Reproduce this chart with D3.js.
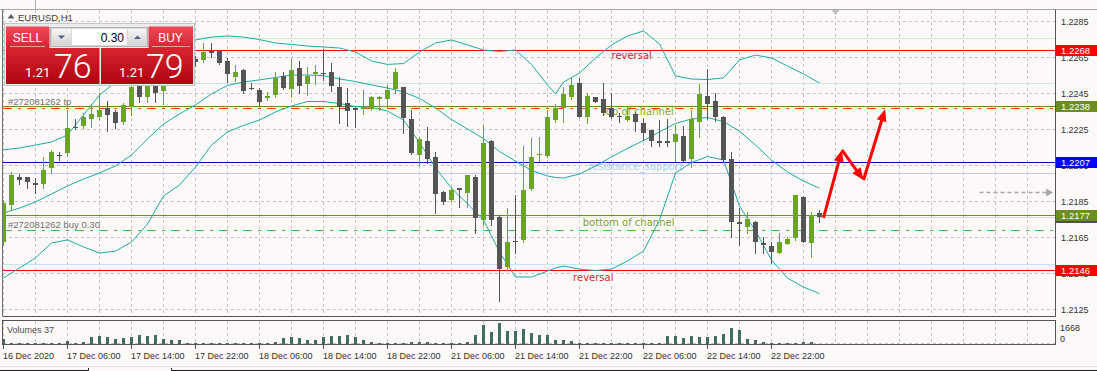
<!DOCTYPE html>
<html>
<head>
<meta charset="utf-8">
<script src="https://cdn.jsdelivr.net/npm/d3@7"></script>
<style>
html,body{margin:0;padding:0;background:#fcf9f8;}
svg{display:block;}
</style>
</head>
<body>
<svg id="chart" width="1097" height="371"></svg>
<script>
// ---------------- DATA ----------------
const symbolTitle = "EURUSD,H1";
const opens = [1.21621,1.21825,1.21982,1.21979,1.21946,1.21942,1.22029,1.22103,1.22116,1.22261,
1.22264,1.22301,1.22316,1.22362,1.22343,1.22286,1.22368,1.22497,1.22427,1.22531,
1.22460,1.22530,1.22580,1.22560,1.22636,1.22631,1.22681,1.22681,1.22625,1.22538,
1.22575,1.22475,1.22464,1.22422,1.22436,1.22539,1.22472,1.22586,1.22497,1.22550,
1.22557,1.22564,1.22482,1.22393,1.22362,1.22358,1.22358,1.22412,1.22412,1.22469,
1.22479,1.22301,1.22103,1.22181,1.22090,1.21896,1.21853,1.21918,1.21893,1.21981,
1.21742,1.22181,1.21760,1.21479,1.21625,1.21631,1.21914,1.22101,1.22097,1.22297,
1.22366,1.22427,1.22504,1.22312,1.22423,1.22412,1.22362,1.22319,1.22297,1.22329,
1.22282,1.22242,1.22181,1.22181,1.22177,1.22208,1.22079,1.22288,1.22431,1.22403,
1.22312,1.22079,1.21729,1.21704,1.21732,1.21616,1.21597,1.21557,1.21607,1.21643,
1.21871,1.21616,1.21779];
const highs = [1.21853,1.22007,1.21997,1.21983,1.21973,1.22093,1.22131,1.22121,1.22353,1.22301,
1.22334,1.22386,1.22446,1.22404,1.22350,1.22390,1.22492,1.22519,1.22542,1.22553,
1.22564,1.22600,1.22620,1.22690,1.22653,1.22727,1.22727,1.22686,1.22643,1.22603,
1.22580,1.22501,1.22473,1.22453,1.22564,1.22564,1.22636,1.22625,1.22592,1.22603,
1.22690,1.22612,1.22534,1.22473,1.22367,1.22464,1.22431,1.22433,1.22492,1.22584,
1.22483,1.22353,1.22204,1.22260,1.22121,1.21900,1.21918,1.21922,1.21994,1.21992,
1.22269,1.22186,1.21769,1.21807,1.21881,1.22153,1.22196,1.22201,1.22353,1.22384,
1.22482,1.22529,1.22529,1.22446,1.22425,1.22501,1.22446,1.22338,1.22371,1.22343,
1.22307,1.22244,1.22297,1.22301,1.22269,1.22264,1.22353,1.22497,1.22579,1.22449,
1.22319,1.22121,1.21807,1.21788,1.21736,1.21646,1.21621,1.21671,1.21649,1.21883,
1.21875,1.21788,1.21797];
const lows = [1.21603,1.21801,1.21942,1.21918,1.21893,1.21918,1.22004,1.22075,1.22097,1.22246,
1.22251,1.22260,1.22301,1.22238,1.22251,1.22275,1.22325,1.22399,1.22399,1.22399,
1.22386,1.22500,1.22540,1.22540,1.22597,1.22621,1.22649,1.22608,1.22510,1.22514,
1.22449,1.22469,1.22381,1.22408,1.22427,1.22472,1.22427,1.22449,1.22436,1.22497,
1.22519,1.22460,1.22279,1.22266,1.22260,1.22331,1.22353,1.22353,1.22371,1.22449,
1.22227,1.22111,1.22047,1.22057,1.21782,1.21831,1.21849,1.21816,1.21816,1.21671,
1.21714,1.21714,1.21292,1.21464,1.21557,1.21621,1.21911,1.22071,1.22094,1.22288,
1.22288,1.22412,1.22312,1.22279,1.22397,1.22325,1.22308,1.22288,1.22294,1.22238,
1.22186,1.22153,1.22153,1.22153,1.22069,1.22067,1.22038,1.22204,1.22303,1.22292,
1.22072,1.21646,1.21603,1.21668,1.21557,1.21557,1.21504,1.21556,1.21606,1.21631,
1.21619,1.21534,1.21732];
const closes = [1.21834,1.21992,1.21964,1.21954,1.21936,1.22019,1.22121,1.22097,1.22251,1.22258,
1.22312,1.22331,1.22353,1.22325,1.22279,1.22381,1.22482,1.22423,1.22519,1.22449,
1.22542,1.22580,1.22560,1.22660,1.22618,1.22675,1.22671,1.22612,1.22551,1.22564,
1.22460,1.22472,1.22399,1.22433,1.22533,1.22477,1.22575,1.22488,1.22542,1.22564,
1.22551,1.22488,1.22371,1.22347,1.22351,1.22371,1.22423,1.22423,1.22464,1.22562,
1.22310,1.22116,1.22193,1.22079,1.21888,1.21843,1.21907,1.21907,1.21992,1.21751,
1.22169,1.21742,1.21469,1.21619,1.21619,1.21908,1.22093,1.22108,1.22314,1.22366,
1.22442,1.22492,1.22316,1.22431,1.22399,1.22334,1.22312,1.22312,1.22319,1.22288,
1.22227,1.22181,1.22169,1.22169,1.22219,1.22069,1.22301,1.22442,1.22386,1.22312,
1.22075,1.21732,1.21718,1.21746,1.21621,1.21603,1.21562,1.21621,1.21636,1.21881,
1.21621,1.21769,1.21757];
const volumes = [420,90,80,70,80,100,90,70,200,100,
140,530,670,580,420,480,560,750,640,690,
420,280,280,110,90,80,70,100,80,110,
100,70,90,80,170,480,560,480,330,330,
560,610,670,750,560,280,170,90,80,100,
110,130,120,130,110,80,70,60,190,690,
1500,940,1668,1030,1030,1170,890,690,690,330,
330,250,110,100,90,80,100,90,80,70,
90,80,110,610,610,480,670,560,560,670,
830,1310,1110,420,280,140,110,90,80,100,
190,140,37];

// Bollinger bands (bar index -> price)
const bandBars = [0,2,4,6,8,10,12,14,16,18,20,22,24,26,28,30,32,34,36,38,40,42,44,46,48,50,52,54,56,58,
60,62,64,66,68,69,70,72,74,76,78,80,82,84,86,88,90,92,94,96,98,100,102];
const bbUpper = [1.22131,1.22142,1.22158,1.22175,1.22214,1.22325,1.22436,1.22508,1.22586,1.22664,
1.22686,1.22725,1.22742,1.22758,1.22764,1.22758,1.22744,1.22725,1.22717,1.22708,
1.22703,1.22697,1.22675,1.22625,1.22606,1.22611,1.22675,1.22725,1.22742,1.22714,
1.22686,1.22678,1.22686,1.22606,1.22492,1.22442,1.22508,1.22558,1.22642,1.22714,1.22764,
1.22792,1.22720,1.22542,1.22525,1.22522,1.22531,1.22631,1.22658,1.22642,1.22597,
1.22553,1.22503];
const bbMiddle = [1.21781,1.21808,1.21842,1.21886,1.21931,1.21969,1.22003,1.22042,1.22103,1.22192,
1.22275,1.22331,1.22381,1.22442,1.22489,1.22508,1.22520,1.22533,1.22547,1.22547,
1.22544,1.22525,1.22511,1.22492,1.22475,1.22453,1.22417,1.22364,1.22300,1.22247,
1.22194,1.22122,1.22069,1.22017,1.21986,1.21978,1.21975,1.21997,1.22042,1.22092,1.22139,
1.22183,1.22231,1.22278,1.22303,1.22311,1.22288,1.22236,1.22158,1.22075,1.22008,
1.21958,1.21918];
const bbLower = [1.21419,1.21475,1.21531,1.21614,1.21631,1.21592,1.21558,1.21569,1.21619,1.21719,
1.21875,1.21936,1.22036,1.22158,1.22231,1.22267,1.22297,1.22342,1.22375,1.22400,
1.22400,1.22389,1.22372,1.22367,1.22347,1.22297,1.22172,1.22031,1.21919,1.21831,
1.21742,1.21564,1.21425,1.21425,1.21458,1.21475,1.21486,1.21469,1.21461,1.21469,1.21514,
1.21569,1.21742,1.22003,1.22061,1.22094,1.22075,1.21819,1.21681,1.21519,1.21419,
1.21369,1.21333];

const priceTicks = [1.2285,1.2265,1.2245,1.2225,1.2205,1.2185,1.2165,1.2145,1.2125];
const timeTickBars = [0,8,16,24,32,40,48,56,64,72,80,88,96];
const timeTickLabels = ["16 Dec 2020","17 Dec 06:00","17 Dec 14:00","17 Dec 22:00","18 Dec 06:00",
"18 Dec 14:00","18 Dec 22:00","21 Dec 06:00","21 Dec 14:00","21 Dec 22:00","22 Dec 06:00",
"22 Dec 14:00","22 Dec 22:00"];

// horizontal objects
const reversalHigh = 1.22684, topChannel = 1.22376, tpPrice = 1.22362, resistance = 1.22066;
const supportLine = 1.22005, bottomChannel = 1.21770, buyPrice = 1.21686, reversalLow = 1.21463;
const faintLevels = [1.22751, 1.22501, 1.21496];
const orderTicket = "#272081262";
const lotSize = "0.30";
const sellPrice = "1.2176", buyQuote = "1.2179";
// text objects: [text, bar, price]
const textObjects = [["reversal",76,1.22636],["top of channel",74.8,1.22325],["resistance_support",73.1,1.22017],
["bottom of channel",72.4,1.21711],["reversal",71.2,1.21403]];
// red forecast arrows (bar, price)
const arrowBars = [102.5,104.8,107.5,110.2];
const arrowPrices = [1.21754,1.22131,1.21964,1.22357];
const dashArrowBars = [122, 131.2], dashArrowPrice = 1.21896;
const shiftBar = 104;

// ---------------- SCALES ----------------
const svg = d3.select('#chart');
const W = 1097, H = 371;
const x = d3.scaleLinear().domain([0, 131.5]).range([3.5, 1055.5]);
const y = d3.scaleLinear().domain([1.2125, 1.2285]).range([308.5, 20.5]);
const yv = d3.scaleLinear().domain([0, d3.max(volumes)]).range([344, 323]);
const cy = v => Math.round(v) + 0.5;
const AX = "'Liberation Sans', Arial, sans-serif";
const TXT = "'DejaVu Sans', Verdana, sans-serif";
const n = opens.length;
const bars = d3.range(n).map(i => ({i, o: opens[i], h: highs[i], l: lows[i], c: closes[i], v: volumes[i]}));
const bid = closes[n - 1];

const defs = svg.append('defs');
defs.append('clipPath').attr('id', 'clipMain').append('rect').attr('x', 3).attr('y', 10).attr('width', 1052).attr('height', 306);
defs.append('clipPath').attr('id', 'clipVol').append('rect').attr('x', 3).attr('y', 321).attr('width', 1052).attr('height', 23);
function grad(id, c1, c2) {
  const g = defs.append('linearGradient').attr('id', id).attr('x1', 0).attr('y1', 0).attr('x2', 0).attr('y2', 1);
  g.append('stop').attr('offset', '0%').attr('stop-color', c1);
  g.append('stop').attr('offset', '100%').attr('stop-color', c2);
}
grad('gHead', '#ef4a56', '#d42634');
grad('gPrice', '#d8242f', '#b0040f');
grad('gBtn', '#f6f6f6', '#d4d4d4');

svg.append('rect').attr('width', W).attr('height', H).attr('fill', '#fcf9f8');

// ---------------- GRID ----------------
const main = svg.append('g').attr('clip-path', 'url(#clipMain)');
const gridBars = d3.range(0, 132, 4);
main.selectAll('.vg').data(gridBars).join('line')
  .attr('x1', d => x(d)).attr('x2', d => x(d)).attr('y1', 10).attr('y2', 316)
  .attr('stroke', '#c4c4c4').attr('stroke-dasharray', '3,3');
main.selectAll('.hg').data(priceTicks).join('line')
  .attr('x1', 3).attr('x2', 1055).attr('y1', d => cy(y(d))).attr('y2', d => cy(y(d)))
  .attr('stroke', '#c4c4c4').attr('stroke-dasharray', '3,3');

// faint lines
const faintColors = ['#d6ecc6', '#cfe5e5', '#c8e6e6'];
faintLevels.forEach((p, k) => {
  main.append('line').attr('x1', 3).attr('x2', 1055).attr('y1', cy(y(p))).attr('y2', cy(y(p)))
    .attr('stroke', faintColors[k]).attr('stroke-width', 1);
});
// bid line
main.append('line').attr('x1', 3).attr('x2', 1055).attr('y1', cy(y(bid))).attr('y2', cy(y(bid)))
  .attr('stroke', '#d8d8cc');
// level lines
function hline(p, color, dash, w) {
  main.append('line').attr('x1', 3).attr('x2', 1055).attr('y1', cy(y(p))).attr('y2', cy(y(p)))
    .attr('stroke', color).attr('stroke-width', w || 1).attr('stroke-dasharray', dash || null);
}
hline(reversalHigh, '#ff0000');
hline(topChannel, '#6b8e23');
hline(tpPrice, '#ff4500', '9,6,3,6');
hline(resistance, '#0000cd');
hline(supportLine, '#c8c8f4');
hline(bottomChannel, '#6b8e23');
hline(buyPrice, '#32cd32', '9,6,3,6');
hline(reversalLow, '#ff0000');

// text objects
const textColors = ['#e0202a', '#8faa1c', '#a6d2ea', '#7f9a1e', '#e0202a'];
const tg = main.append('g');
textObjects.forEach((t, k) => {
  const tx = x(t[1]), ty = y(t[2]);
  const el = tg.append('text').attr('x', tx).attr('y', ty).text(t[0])
    .attr('font-family', TXT).attr('font-size', 10).attr('fill', textColors[k]);
  if (k >= 3) {
    const bb = el.node().getBBox();
    tg.insert('rect', 'text').attr('x', bb.x - 3).attr('y', bb.y + 1).attr('width', bb.width + 6).attr('height', bb.height - 1).attr('fill', '#ffffff');
  }
});

// order labels
main.append('text').attr('x', 8).attr('y', cy(y(topChannel)) - 2).text(orderTicket + " tp")
  .attr('font-family', AX).attr('font-size', 9.5).attr('fill', '#707070');
main.append('text').attr('x', 8).attr('y', cy(y(buyPrice)) - 2.5).text(orderTicket + " buy " + lotSize)
  .attr('font-family', AX).attr('font-size', 9.5).attr('fill', '#707070');

// ---------------- BANDS ----------------
const bandLine = arr => d3.line().x((d, k) => x(bandBars[k])).y(d => y(d))(arr);
[bbUpper, bbMiddle, bbLower].forEach(arr => {
  main.append('path').attr('d', bandLine(arr)).attr('fill', 'none').attr('stroke', '#20aaa6').attr('stroke-width', 1);
});

// ---------------- CANDLES ----------------
const GREEN = '#6aa80c', GRAY = '#555555';
const cg = main.append('g');
bars.forEach(b => {
  const col = b.c > b.o ? GREEN : GRAY;
  const xc = x(b.i);
  cg.append('line').attr('x1', xc).attr('x2', xc).attr('y1', Math.round(y(b.h))).attr('y2', Math.round(y(b.l)) + 1)
    .attr('stroke', col).attr('stroke-width', 1);
  const top = Math.round(y(Math.max(b.o, b.c))), bot = Math.round(y(Math.min(b.o, b.c)));
  cg.append('rect').attr('x', xc - 2.5).attr('y', top).attr('width', 5).attr('height', Math.max(1, bot - top))
    .attr('fill', col);
});

// ---------------- ARROWS ----------------
function arrow(g, x0, y0, x1, y1, color, w, hl, hw, dash) {
  const dx = x1 - x0, dy = y1 - y0, L = Math.hypot(dx, dy), ux = dx / L, uy = dy / L;
  const bx = x1 - ux * hl, by = y1 - uy * hl;
  g.append('line').attr('x1', x0).attr('y1', y0).attr('x2', bx + ux).attr('y2', by + uy)
    .attr('stroke', color).attr('stroke-width', w).attr('stroke-dasharray', dash || null);
  g.append('path').attr('d', `M${x1},${y1}L${bx - uy * hw},${by + ux * hw}L${bx + uy * hw},${by - ux * hw}Z`).attr('fill', color);
}
for (let k = 0; k < arrowBars.length - 1; k++) {
  arrow(main, x(arrowBars[k]), y(arrowPrices[k]), x(arrowBars[k + 1]), y(arrowPrices[k + 1]), '#ff0000', 3, 12, 5);
}
arrow(svg, x(dashArrowBars[0]), cy(y(dashArrowPrice)), x(dashArrowBars[1]), cy(y(dashArrowPrice)), '#a8a8a8', 1.5, 7, 4, '4,3');

// ---------------- VOLUMES ----------------
const vg = svg.append('g').attr('clip-path', 'url(#clipVol)');
vg.selectAll('.vgr').data(gridBars).join('line')
  .attr('x1', d => x(d)).attr('x2', d => x(d)).attr('y1', 321).attr('y2', 344)
  .attr('stroke', '#c4c4c4').attr('stroke-dasharray', '3,3');
vg.append('line').attr('x1', 3).attr('x2', 1055).attr('y1', 343.5).attr('y2', 343.5).attr('stroke', '#c4c4c4').attr('stroke-dasharray', '3,3');
vg.selectAll('.vb').data(bars).join('rect')
  .attr('x', d => x(d.i) - 1.5).attr('width', 3)
  .attr('y', d => Math.round(yv(d.v))).attr('height', d => Math.max(1, 344 - Math.round(yv(d.v))))
  .attr('fill', '#3f6f64');
svg.append('text').attr('x', 7).attr('y', 333).text('Volumes ' + volumes[n - 1])
  .attr('font-family', AX).attr('font-size', 9).attr('fill', '#505050');
svg.append('text').attr('x', 1060).attr('y', 331).text(d3.max(volumes))
  .attr('font-family', AX).attr('font-size', 9).attr('fill', '#333');
svg.append('text').attr('x', 1060).attr('y', 342).text('0')
  .attr('font-family', AX).attr('font-size', 9).attr('fill', '#333');

// ---------------- FRAMES & AXES ----------------
const fr = svg.append('g').attr('fill', 'none');
fr.append('line').attr('x1', 0).attr('x2', W).attr('y1', 9.5).attr('y2', 9.5).attr('stroke', '#a8a8a8');
fr.append('line').attr('x1', 35.5).attr('x2', 35.5).attr('y1', 0).attr('y2', 9).attr('stroke', '#b0b0b0');
fr.append('line').attr('x1', 2.5).attr('x2', 2.5).attr('y1', 9.5).attr('y2', 316.5).attr('stroke', '#707070');
fr.append('line').attr('x1', 2.5).attr('x2', 1055.5).attr('y1', 316.5).attr('y2', 316.5).attr('stroke', '#555');
fr.append('line').attr('x1', 1055.5).attr('x2', 1055.5).attr('y1', 9.5).attr('y2', 316.5).attr('stroke', '#555');
fr.append('rect').attr('x', 2.5).attr('y', 320.5).attr('width', 1053).attr('height', 24).attr('stroke', '#555');
svg.selectAll('.tt').data(timeTickBars).join('line')
  .attr('x1', d => x(d)).attr('x2', d => x(d)).attr('y1', 345).attr('y2', 349).attr('stroke', '#555');
svg.selectAll('.tl').data(timeTickBars).join('text')
  .attr('x', d => x(d) - 0.5).attr('y', 359).text((d, k) => timeTickLabels[k])
  .attr('font-family', AX).attr('font-size', 9).attr('fill', '#333');
svg.selectAll('.pl').data(priceTicks).join('text')
  .attr('x', 1061).attr('y', d => cy(y(d)) + 3.5).text(d => d.toFixed(4))
  .attr('font-family', AX).attr('font-size', 9).attr('fill', '#333');
// bottom tab bar
fr.append('line').attr('x1', 0).attr('x2', W).attr('y1', 366.5).attr('y2', 366.5).attr('stroke', '#e2e2e2');
fr.append('path').attr('d', 'M0,370.5H88.5V368M171.5,368V370.5H1097').attr('stroke', '#202020');

// chart shift marker
svg.append('path').attr('d', `M${x(shiftBar) - 4},10L${x(shiftBar) + 4},10L${x(shiftBar)},15Z`).attr('fill', '#c0c0c0');

// price boxes
function priceBox(p, fill, label) {
  const yc = y(p);
  svg.append('rect').attr('x', 1056).attr('y', Math.round(yc) - 5).attr('width', 41).attr('height', 11).attr('fill', fill);
  svg.append('text').attr('x', 1061).attr('y', Math.round(yc) + 3.5).text(label || p.toFixed(4))
    .attr('font-family', AX).attr('font-size', 9.5).attr('fill', '#fff');
}
priceBox(bid, '#505050');
priceBox(reversalHigh, '#ff0000');
priceBox(topChannel, '#6b8e23');
priceBox(resistance, '#0000ff');
priceBox(bottomChannel, '#6b8e23');
priceBox(reversalLow, '#ff0000');

// ---------------- TITLE ----------------
svg.append('path').attr('d', 'M7.5,18.5L14.5,18.5L11,14Z').attr('fill', '#606060');
svg.append('text').attr('x', 18).attr('y', 20.5).text(symbolTitle)
  .attr('font-family', AX).attr('font-size', 9.5).attr('fill', '#404040');

// ---------------- TRADE PANEL ----------------
const tp = svg.append('g');
tp.append('rect').attr('x', 4.5).attr('y', 23.5).attr('width', 190).attr('height', 62).attr('fill', '#ececec').attr('stroke', '#c6c6c6');
// SELL head
tp.append('rect').attr('x', 6).attr('y', 26.5).attr('width', 43.5).attr('height', 21.5).attr('fill', 'url(#gHead)');
tp.append('line').attr('x1', 10).attr('x2', 45).attr('y1', 46.5).attr('y2', 46.5).attr('stroke', '#f39a9a');
tp.append('text').attr('x', 27.5).attr('y', 42).attr('text-anchor', 'middle').text('SELL')
  .attr('font-family', AX).attr('font-size', 12).attr('fill', '#fff');
// BUY head
tp.append('rect').attr('x', 148.5).attr('y', 26.5).attr('width', 44.5).attr('height', 21.5).attr('fill', 'url(#gHead)');
tp.append('line').attr('x1', 152).attr('x2', 190).attr('y1', 46.5).attr('y2', 46.5).attr('stroke', '#f39a9a');
tp.append('text').attr('x', 170.5).attr('y', 42).attr('text-anchor', 'middle').text('BUY')
  .attr('font-family', AX).attr('font-size', 12).attr('fill', '#fff');
// spinner
tp.append('rect').attr('x', 50.5).attr('y', 27.5).attr('width', 97).attr('height', 19).attr('fill', '#d8d8d8').attr('stroke', '#b4b4b4');
tp.append('rect').attr('x', 52).attr('y', 29).attr('width', 19).attr('height', 16).attr('fill', 'url(#gBtn)');
tp.append('rect').attr('x', 128).attr('y', 29).attr('width', 18).attr('height', 16).attr('fill', 'url(#gBtn)');
tp.append('rect').attr('x', 72).attr('y', 29).attr('width', 55).attr('height', 16).attr('fill', '#ffffff');
tp.append('path').attr('d', 'M58,35.5L65,35.5L61.5,39Z').attr('fill', '#4f5f90');
tp.append('path').attr('d', 'M134,39L141,39L137.5,35.5Z').attr('fill', '#4f5f90');
tp.append('text').attr('x', 124).attr('y', 42).attr('text-anchor', 'end').text(lotSize)
  .attr('font-family', AX).attr('font-size', 12).attr('fill', '#000');
// price boxes
tp.append('rect').attr('x', 6).attr('y', 48).attr('width', 93.5).attr('height', 36).attr('fill', 'url(#gPrice)');
tp.append('rect').attr('x', 101).attr('y', 48).attr('width', 92).attr('height', 36).attr('fill', 'url(#gPrice)');
function quote(x0, xBig, q) {
  tp.append('text').attr('x', x0).attr('y', 77).text(q.slice(0, 4))
    .attr('font-family', "Roboto, 'Open Sans', sans-serif").attr('font-size', 13).attr('fill', '#fff');
  tp.append('text').attr('x', xBig).attr('y', 78).text(q.slice(4))
    .attr('font-family', "Roboto, 'Open Sans', sans-serif").attr('font-weight', 300).attr('font-size', 34).attr('fill', '#fff');
}
quote(25, 54, sellPrice);
quote(119, 146, buyQuote);
</script>
</body>
</html>
